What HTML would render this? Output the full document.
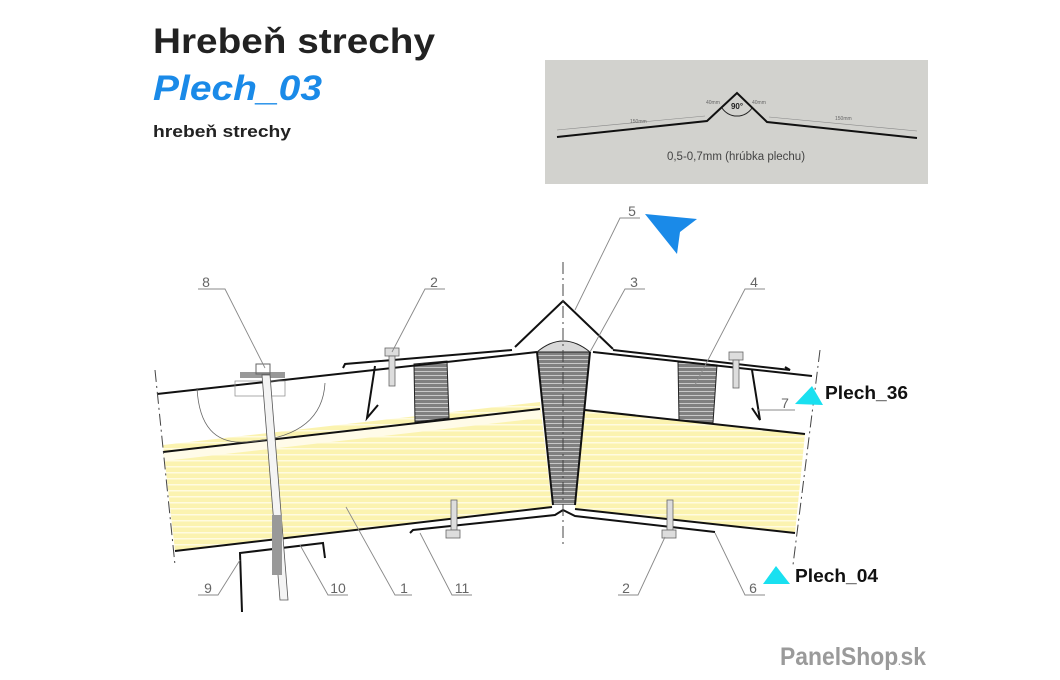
<!DOCTYPE html>
<html><head><meta charset="utf-8"><style>
html,body{margin:0;padding:0;background:#fff;width:1060px;height:680px;overflow:hidden}
svg{display:block}
</style></head><body>
<svg width="1060" height="680" viewBox="0 0 1060 680" xmlns="http://www.w3.org/2000/svg" font-family="Liberation Sans, DejaVu Sans, sans-serif">
<defs>
<pattern id="yl" width="10" height="6" patternUnits="userSpaceOnUse">
<rect width="10" height="6" fill="#fbf3b0"/><rect y="4" width="10" height="1.5" fill="#fffbe0"/>
</pattern>
<pattern id="gr" width="10" height="4" patternUnits="userSpaceOnUse">
<rect width="10" height="4" fill="#808080"/><rect y="3" width="10" height="1" fill="#c8c8c8"/>
</pattern>
</defs>
<!-- titles -->
<text x="153" y="53" font-size="35" font-weight="bold" fill="#222" textLength="282" lengthAdjust="spacingAndGlyphs">Hrebeň strechy</text>
<text x="153" y="100" font-size="35" font-weight="bold" font-style="italic" fill="#1a8ae8" textLength="169" lengthAdjust="spacingAndGlyphs">Plech_03</text>
<text x="153" y="137" font-size="17" font-weight="bold" fill="#222" textLength="138" lengthAdjust="spacingAndGlyphs">hrebeň strechy</text>
<!-- gray box -->
<rect x="545" y="60" width="383" height="124" fill="#d2d2ce"/>
<polyline points="557,137 707,121 737,93 767,122 917,138" fill="none" stroke="#111" stroke-width="2"/>
<path d="M722,108 A18,18 0 0 0 752,108" fill="none" stroke="#222"/>
<text x="737" y="109" font-size="8" font-weight="bold" text-anchor="middle" fill="#222">90°</text>
<line x1="557" y1="130" x2="705" y2="116" stroke="#888" stroke-width="0.6"/>
<line x1="769" y1="117" x2="917" y2="131" stroke="#888" stroke-width="0.6"/>
<text x="630" y="123" font-size="5" fill="#666">150mm</text>
<text x="835" y="120" font-size="5" fill="#666">150mm</text>
<text x="706" y="104" font-size="5" fill="#666">40mm</text>
<text x="752" y="104" font-size="5" fill="#666">40mm</text>
<text x="736" y="160" font-size="11.5" text-anchor="middle" fill="#444">0,5-0,7mm (hrúbka plechu)</text>
<!-- yellow core -->
<polygon points="163,445 540,402 552,507 175,551" fill="url(#yl)"/>
<polygon points="163,452 540,409 541,418 164,461" fill="#fffbe8"/>
<polygon points="585,410 805,434 795,533 575,509" fill="url(#yl)"/>
<!-- gray blocks -->
<polygon points="537,352 590,352 575,505 553,505" fill="url(#gr)"/>
<path d="M537,352 Q563,330 590,352 Z" fill="#d8d8d8" stroke="#222" stroke-width="1"/>
<polygon points="414,364 447,361 449,418 415,422" fill="url(#gr)" stroke="#222" stroke-width="1"/>
<polygon points="678,362 717,365 713,423 679,420" fill="url(#gr)" stroke="#222" stroke-width="1"/>
<g stroke="#111" stroke-width="2" fill="none">
<line x1="157" y1="394" x2="537" y2="352"/>
<line x1="163" y1="452" x2="540" y2="409"/>
<line x1="175" y1="551" x2="552" y2="507"/>
<line x1="593" y1="352" x2="812" y2="376"/>
<line x1="585" y1="410" x2="805" y2="434"/>
<line x1="575" y1="509" x2="795" y2="533"/>
<line x1="537" y1="352" x2="553" y2="505"/>
<line x1="590" y1="352" x2="575" y2="505"/>
<polyline points="515,347 563,301 613,349"/>
<polyline points="343,368 345,364 512,350"/>
<polyline points="613,350 790,370 785,367" />
<polyline points="375,366 367,418 378,405"/>
<polyline points="752,370 760,420 752,408"/>
<polyline points="410,533 413,530 555,515 563,510 575,516 715,532"/>
<polyline points="242,612 240,553 323,543 325,558"/>
</g>
<!-- dashed lines -->
<g stroke="#444" stroke-width="1" stroke-dasharray="12,4,2,4" fill="none">
<line x1="563" y1="262" x2="563" y2="546"/>
<line x1="155" y1="370" x2="175" y2="565"/>
<line x1="820" y1="350" x2="793" y2="565"/>
</g>
<!-- bolt 8 -->
<path d="M197,388 Q200,445 245,442 Q322,438 325,383" fill="none" stroke="#666" stroke-width="0.8"/>
<rect x="235" y="381" width="50" height="15" fill="none" stroke="#888" stroke-width="0.7"/>
<rect x="240" y="372" width="45" height="6" fill="#999"/>
<rect x="256" y="364" width="14" height="10" fill="none" stroke="#666"/>
<polygon points="262,375 270,375 288,600 280,600" fill="#f4f4f4" stroke="#555" stroke-width="0.8"/>
<rect x="272" y="515" width="10" height="60" fill="#999"/>
<!-- screws -->
<g stroke="#666" fill="#ddd" stroke-width="0.8">
<rect x="385" y="348" width="14" height="8"/><rect x="389" y="356" width="6" height="30"/>
<rect x="729" y="352" width="14" height="8"/><rect x="733" y="360" width="6" height="28"/>
<rect x="451" y="500" width="6" height="30"/><rect x="446" y="530" width="14" height="8"/>
<rect x="667" y="500" width="6" height="30"/><rect x="662" y="530" width="14" height="8"/>
</g>
<!-- leaders -->
<g stroke="#888" stroke-width="0.9" fill="none">
<polyline points="198,289 225,289 265,368"/>
<polyline points="445,289 425,289 392,352"/>
<polyline points="640,218 620,218 575,310"/>
<polyline points="645,289 625,289 590,352"/>
<polyline points="765,289 745,289 695,385"/>
<line x1="758" y1="410" x2="795" y2="410"/>
<polyline points="198,595 218,595 240,560"/>
<polyline points="348,595 328,595 300,545"/>
<polyline points="412,595 395,595 346,507"/>
<polyline points="472,595 452,595 420,533"/>
<polyline points="618,595 638,595 665,537"/>
<polyline points="765,595 745,595 715,533"/>
</g>
<g font-size="14" fill="#666" text-anchor="middle">
<text x="206" y="287">8</text><text x="434" y="287">2</text><text x="632" y="216">5</text>
<text x="634" y="287">3</text><text x="754" y="287">4</text><text x="785" y="408">7</text>
<text x="208" y="593">9</text><text x="338" y="593">10</text><text x="404" y="593">1</text>
<text x="462" y="593">11</text><text x="626" y="593">2</text><text x="753" y="593">6</text>
</g>
<!-- cyan markers -->
<polygon points="795,404 812,386 823,405" fill="#19e0f0"/>
<text x="825" y="399" font-size="18" font-weight="bold" fill="#111" textLength="83" lengthAdjust="spacingAndGlyphs">Plech_36</text>
<polygon points="763,584 776,566 790,584" fill="#19e0f0"/>
<text x="795" y="582" font-size="18" font-weight="bold" fill="#111" textLength="83" lengthAdjust="spacingAndGlyphs">Plech_04</text>
<!-- blue arrow -->
<polygon points="645,214 697,219 680,232 677,254" fill="#1a8ae8"/>
<!-- logo -->
<text x="780" y="665" font-size="25" font-weight="bold" fill="#9a9a9a" textLength="146" lengthAdjust="spacingAndGlyphs">PanelShop<tspan font-size="9">.</tspan>sk</text>
</svg>
</body></html>
